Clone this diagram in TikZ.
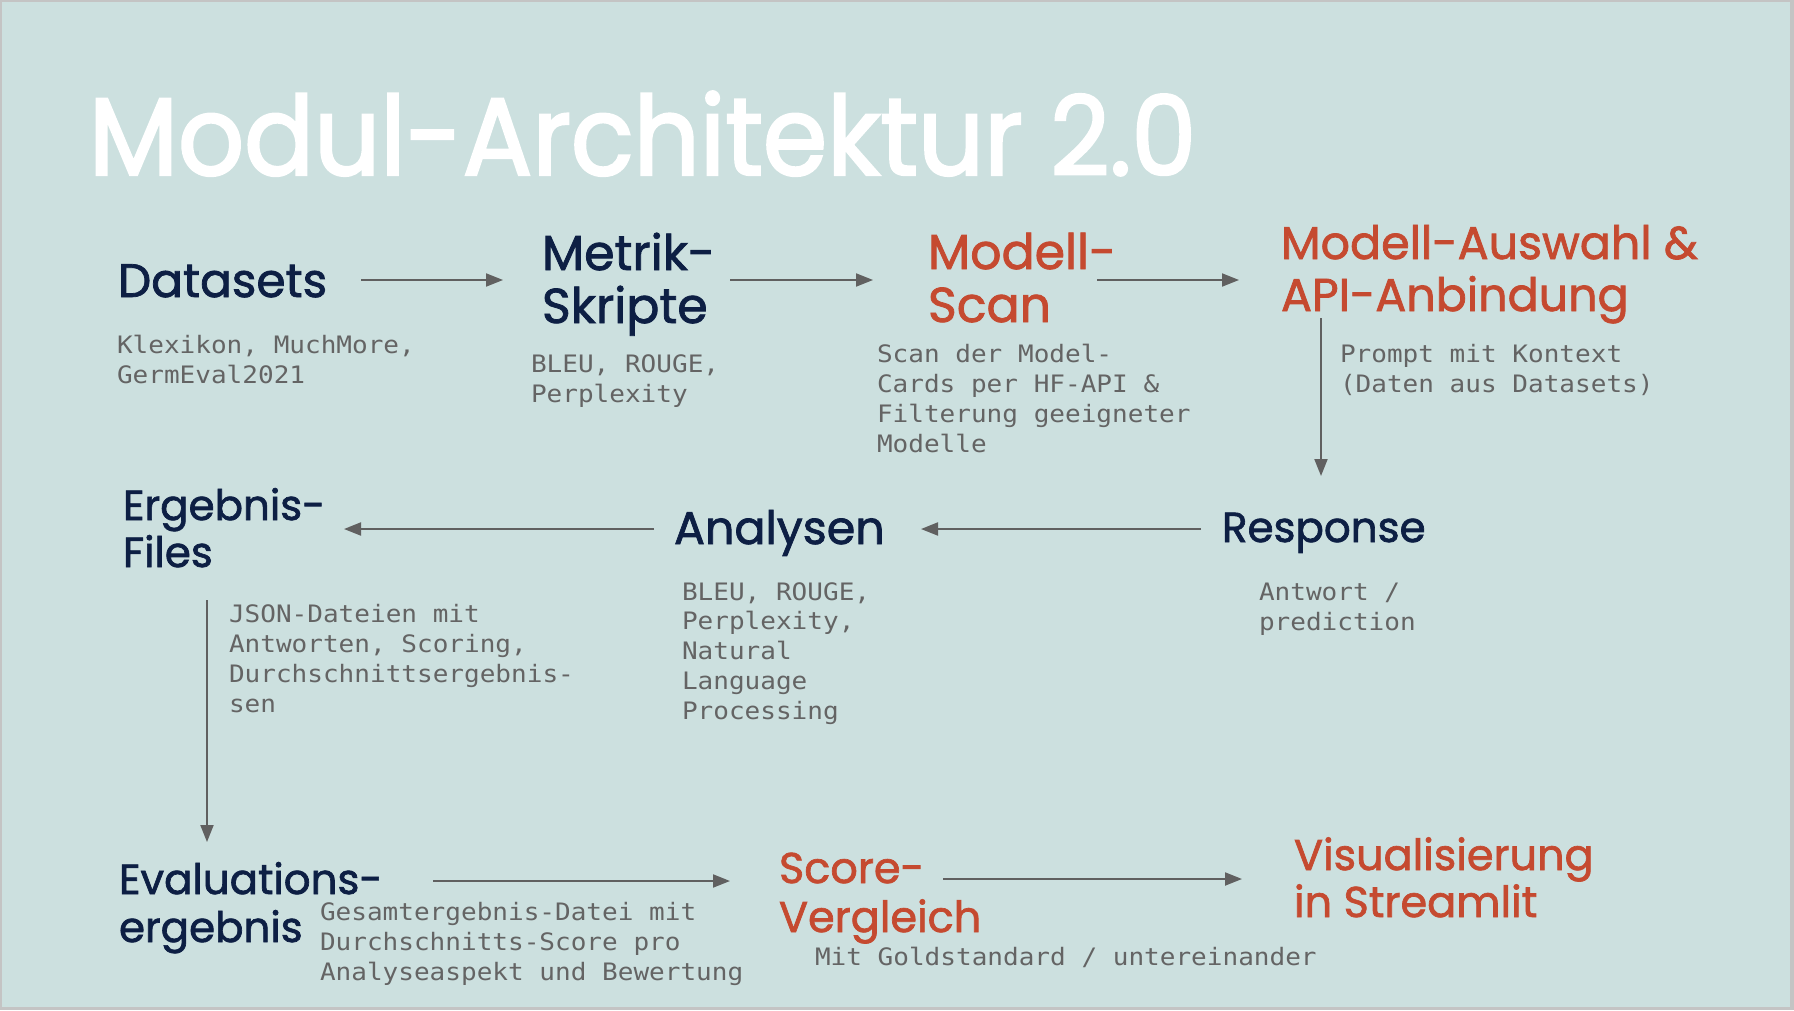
\documentclass[tikz,border=0pt]{standalone}
\usepackage{fontspec}
\usetikzlibrary{arrows.meta}
\newfontfamily\headfont{Poppins}[FakeBold=1.6]
\newfontfamily\titlefont{Poppins}[FakeStretch=0.94,FakeBold=2.2]
\newfontfamily\codefont{DejaVu Sans Mono}[FakeStretch=1.085]
\newcommand\hfsize[2]{\headfont\fontsize{#1}{#2}\selectfont}
\definecolor{bgteal}{RGB}{204,224,223}
\definecolor{frame}{RGB}{196,196,196}
\definecolor{navy}{RGB}{13,31,68}
\definecolor{rust}{RGB}{197,74,48}
\definecolor{note}{RGB}{100,100,100}
\definecolor{wire}{RGB}{96,96,96}
\tikzset{
  lbl/.style={anchor=base west, inner sep=0pt, outer sep=0pt, align=left},
  stage/.style={lbl, text=navy},
  hot/.style={lbl, text=rust},
  desc/.style={lbl, text=note, font=\codefont\fontsize{24}{29.7}\selectfont},
  arr/.style={draw=wire, line width=2pt, -{Triangle[length=17pt,width=13pt]}}
}
\begin{document}
\begin{tikzpicture}[x=1pt,y=-1pt]
% canvas and frame
\fill[frame] (0,0) rectangle (1794,1010);
\fill[bgteal] (2,2) rectangle (1790,1007);
\useasboundingbox (0,0) rectangle (1794,1010);

% title (multi-line nodes below are placed at the baseline of their last line)
\node[lbl, text=white, font=\titlefont\fontsize{110}{110}\selectfont] (title) at (89,175) {Modul-Architektur 2.0};

% first row
\node[stage, font=\hfsize{47}{53}] (datasets) at (118,297) {Datasets};
\node[desc] (datasetsd) at (117,383) {Klexikon, MuchMore,\\GermEval2021};

\node[stage, font=\hfsize{49}{53}] (metrik) at (542,323) {Metrik-\\Skripte};
\node[desc] (metrikd) at (531,402) {BLEU, ROUGE,\\Perplexity};

\node[hot, font=\hfsize{49}{53}] (modell) at (928,322) {Modell-\\Scan};
\node[desc] (modelld) at (877,452) {Scan der Model-\\Cards per HF-API \&\\Filterung geeigneter\\Modelle};

\node[hot, font=\hfsize{46}{52}] (auswahl) at (1281,311) {Modell-Auswahl \&\\API-Anbindung};
\node[desc] (auswahld) at (1340,392) {Prompt mit Kontext\\(Daten aus Datasets)};

% second row
\node[stage, font=\hfsize{42}{47}] (response) at (1222,542) {Response};
\node[desc] (responsed) at (1259,630) {Antwort /\\prediction};

\node[stage, font=\hfsize{46}{50}] (analysen) at (674,544) {Analysen};
\node[desc] (analysend) at (682,719) {BLEU, ROUGE,\\Perplexity,\\Natural\\Language\\Processing};

\node[stage, font=\hfsize{42}{47}] (ergebnis) at (123,567) {Ergebnis-\\Files};
\node[desc] (ergebnisd) at (229,712) {JSON-Dateien mit\\Antworten, Scoring,\\Durchschnittsergebnis-\\sen};

% third row
\node[stage, font=\hfsize{42}{48}] (evaluation) at (119,942) {Evaluations-\\ergebnis};
\node[desc] (evaluationd) at (320,980) {Gesamtergebnis-Datei mit\\Durchschnitts-Score pro\\Analyseaspekt und Bewertung};

\node[hot, font=\hfsize{43}{49}] (score) at (779,932) {Score-\\Vergleich};
\node[desc] (scored) at (815,965) {Mit Goldstandard / untereinander};

\node[hot, font=\hfsize{43}{47}] (visual) at (1294,917) {Visualisierung\\in Streamlit};

% connectors
\draw[arr] ([shift={(243,-17)}]datasets.base west) -- ([shift={(-39,-43)}]metrik.base west);
\draw[arr] ([shift={(188,-43)}]metrik.base west) -- ([shift={(-55,-42)}]modell.base west);
\draw[arr] ([shift={(169,-42)}]modell.base west) -- ([shift={(-42,-31)}]auswahl.base west);
\draw[arr] ([shift={(40,7)}]auswahl.base west) -- ([shift={(99,-66)}]response.base west);
\draw[arr] ([shift={(-21,-13)}]response.base west) -- ([shift={(247,-15)}]analysen.base west);
\draw[arr] ([shift={(-20,-15)}]analysen.base west) -- ([shift={(221,-38)}]ergebnis.base west);
\draw[arr] ([shift={(84,33)}]ergebnis.base west) -- ([shift={(88,-100)}]evaluation.base west);
\draw[arr] ([shift={(314,-61)}]evaluation.base west) -- ([shift={(-49,-51)}]score.base west);
\draw[arr] ([shift={(164,-53)}]score.base west) -- ([shift={(-52,-38)}]visual.base west);
\end{tikzpicture}
\end{document}
